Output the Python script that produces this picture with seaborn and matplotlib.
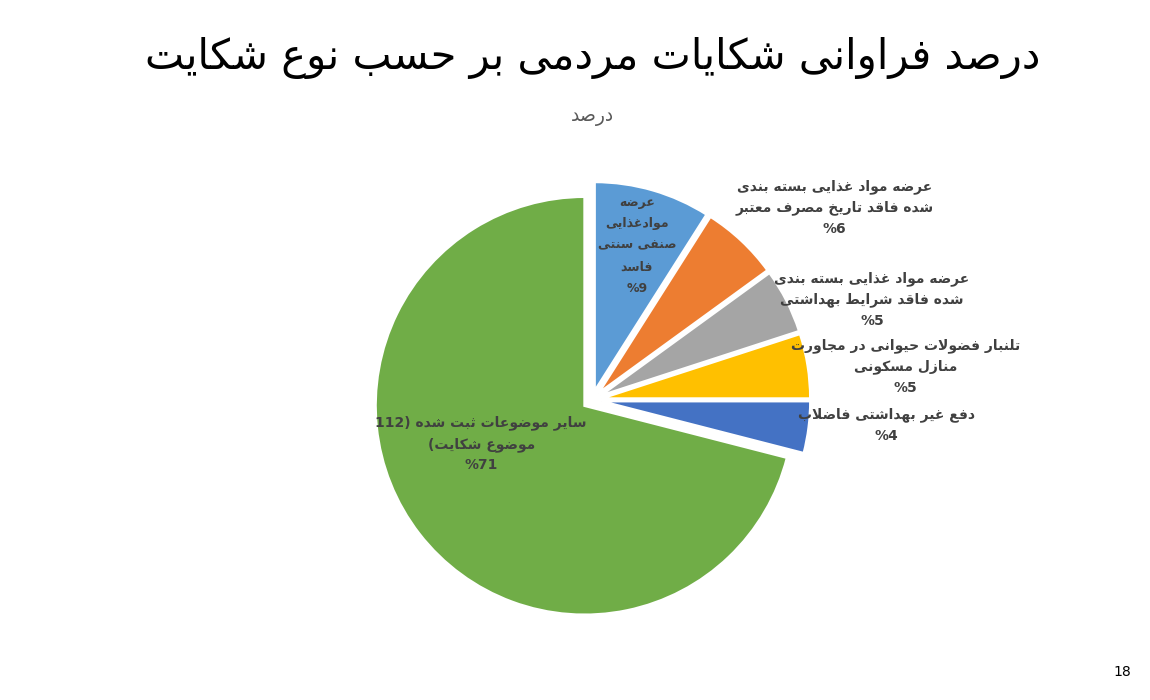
import re
import matplotlib
matplotlib.use('Agg')
import matplotlib.pyplot as plt
import seaborn as sns

sns.set_style('white')
plt.rcParams['font.family'] = ['DejaVu Sans']

# داده‌ها
title = 'درصد فراوانی شکایات مردمی بر حسب نوع شکایت'
subtitle = 'درصد'
categories = [
    'عرضه\nموادغذایی\nصنفی سنتی\nفاسد',
    'عرضه مواد غذایی بسته بندی\nشده فاقد تاریخ مصرف معتبر',
    'عرضه مواد غذایی بسته بندی\nشده فاقد شرایط بهداشتی',
    'تلنبار فضولات حیوانی در مجاورت\nمنازل مسکونی',
    'دفع غیر بهداشتی فاضلاب',
    'سایر موضوعات ثبت شده (112\nموضوع شکایت)',
]
values = [9, 6, 5, 5, 4, 71]
colors = ['#5B9BD5', '#ED7D31', '#A5A5A5', '#FFC000', '#4472C4', '#70AD47']
page_number = '18'

# label anchor points (pie radius = 1), line spacing and size
label_pos = [(0.215, 0.74), (1.16, 0.92), (1.34, 0.48),
             (1.50, 0.16), (1.41, -0.12), (-0.53, -0.21)]
label_spacing = [1.85, 1.6, 1.6, 1.6, 1.6, 1.6]
label_size = [9, 10, 10, 10, 10, 10]

# matplotlib has no arabic shaping -> map letters to presentation forms by hand
FORMS = {
    'ا': ('\uFE8D', '\uFE8E', None, None),
    'ب': ('\uFE8F', '\uFE90', '\uFE91', '\uFE92'),
    'پ': ('\uFB56', '\uFB57', '\uFB58', '\uFB59'),
    'ت': ('\uFE95', '\uFE96', '\uFE97', '\uFE98'),
    'ث': ('\uFE99', '\uFE9A', '\uFE9B', '\uFE9C'),
    'ج': ('\uFE9D', '\uFE9E', '\uFE9F', '\uFEA0'),
    'چ': ('\uFB7A', '\uFB7B', '\uFB7C', '\uFB7D'),
    'ح': ('\uFEA1', '\uFEA2', '\uFEA3', '\uFEA4'),
    'خ': ('\uFEA5', '\uFEA6', '\uFEA7', '\uFEA8'),
    'د': ('\uFEA9', '\uFEAA', None, None),
    'ذ': ('\uFEAB', '\uFEAC', None, None),
    'ر': ('\uFEAD', '\uFEAE', None, None),
    'ز': ('\uFEAF', '\uFEB0', None, None),
    'ژ': ('\uFB8A', '\uFB8B', None, None),
    'س': ('\uFEB1', '\uFEB2', '\uFEB3', '\uFEB4'),
    'ش': ('\uFEB5', '\uFEB6', '\uFEB7', '\uFEB8'),
    'ص': ('\uFEB9', '\uFEBA', '\uFEBB', '\uFEBC'),
    'ض': ('\uFEBD', '\uFEBE', '\uFEBF', '\uFEC0'),
    'ط': ('\uFEC1', '\uFEC2', '\uFEC3', '\uFEC4'),
    'ظ': ('\uFEC5', '\uFEC6', '\uFEC7', '\uFEC8'),
    'ع': ('\uFEC9', '\uFECA', '\uFECB', '\uFECC'),
    'غ': ('\uFECD', '\uFECE', '\uFECF', '\uFED0'),
    'ف': ('\uFED1', '\uFED2', '\uFED3', '\uFED4'),
    'ق': ('\uFED5', '\uFED6', '\uFED7', '\uFED8'),
    'ک': ('\uFB8E', '\uFB8F', '\uFB90', '\uFB91'),
    'گ': ('\uFB92', '\uFB93', '\uFB94', '\uFB95'),
    'ل': ('\uFEDD', '\uFEDE', '\uFEDF', '\uFEE0'),
    'م': ('\uFEE1', '\uFEE2', '\uFEE3', '\uFEE4'),
    'ن': ('\uFEE5', '\uFEE6', '\uFEE7', '\uFEE8'),
    'ه': ('\uFEE9', '\uFEEA', '\uFEEB', '\uFEEC'),
    'و': ('\uFEED', '\uFEEE', None, None),
    'ی': ('\uFBFC', '\uFBFD', '\uFBFE', '\uFBFF'),
}
MIRROR = str.maketrans('()', ')(')


def dual(ch):
    return ch in FORMS and FORMS[ch][2] is not None


def rtl_line(line):
    out = []
    i, n = 0, len(line)
    while i < n:
        c = line[i]
        if c not in FORMS:
            out.append(c)
            i += 1
            continue
        join_prev = i > 0 and dual(line[i - 1])
        if c == 'ل' and i + 1 < n and line[i + 1] == 'ا':
            out.append('\uFEFC' if join_prev else '\uFEFB')
            i += 2
            continue
        join_next = dual(c) and i + 1 < n and line[i + 1] in FORMS
        iso, fin, ini, med = FORMS[c]
        if join_prev and join_next:
            out.append(med)
        elif join_prev:
            out.append(fin)
        elif join_next:
            out.append(ini)
        else:
            out.append(iso)
        i += 1
    s = ''.join(out)
    parts = re.findall(r'[0-9]+|[^0-9]+', s)
    vis = [p if p[0].isdigit() else p[::-1].translate(MIRROR) for p in reversed(parts)]
    return ''.join(vis)


def rtl(text):
    return '\n'.join(rtl_line(l) for l in text.split('\n'))


fig = plt.figure(figsize=(11.5, 7), dpi=100)
fig.patch.set_facecolor('white')

# pie centre at (592, 400) px, radius 209 px
S = 600
ax = fig.add_axes([(592 - S / 2) / 1150, (300 - S / 2) / 700, S / 1150, S / 700])
wedges, _ = ax.pie(values, colors=colors, startangle=90, counterclock=False,
                   explode=[0.045] * len(values),
                   wedgeprops=dict(edgecolor='white', linewidth=1.8))
half = S / 2 / 209
ax.set_xlim(-half, half)
ax.set_ylim(-half, half)
ax.set_aspect('equal')
ax.axis('off')

for (x, y), ls, fs, cat, v in zip(label_pos, label_spacing, label_size, categories, values):
    ax.text(x, y, rtl(cat) + '\n%' + str(v), ha='center', va='center',
            multialignment='center', fontsize=fs, fontweight='bold',
            color='#404040', linespacing=ls)

fig.text(0.515, 1 - 58 / 700, rtl(title), ha='center', va='center',
         fontsize=30, color='black')
fig.text(0.515, 1 - 117 / 700, rtl(subtitle), ha='center', va='center',
         fontsize=13.5, color='#595959')
fig.text(1122 / 1150, 1 - 672 / 700, page_number, ha='center', va='center',
         fontsize=10, color='black')

fig.savefig('out.png', dpi=100, facecolor='white')
